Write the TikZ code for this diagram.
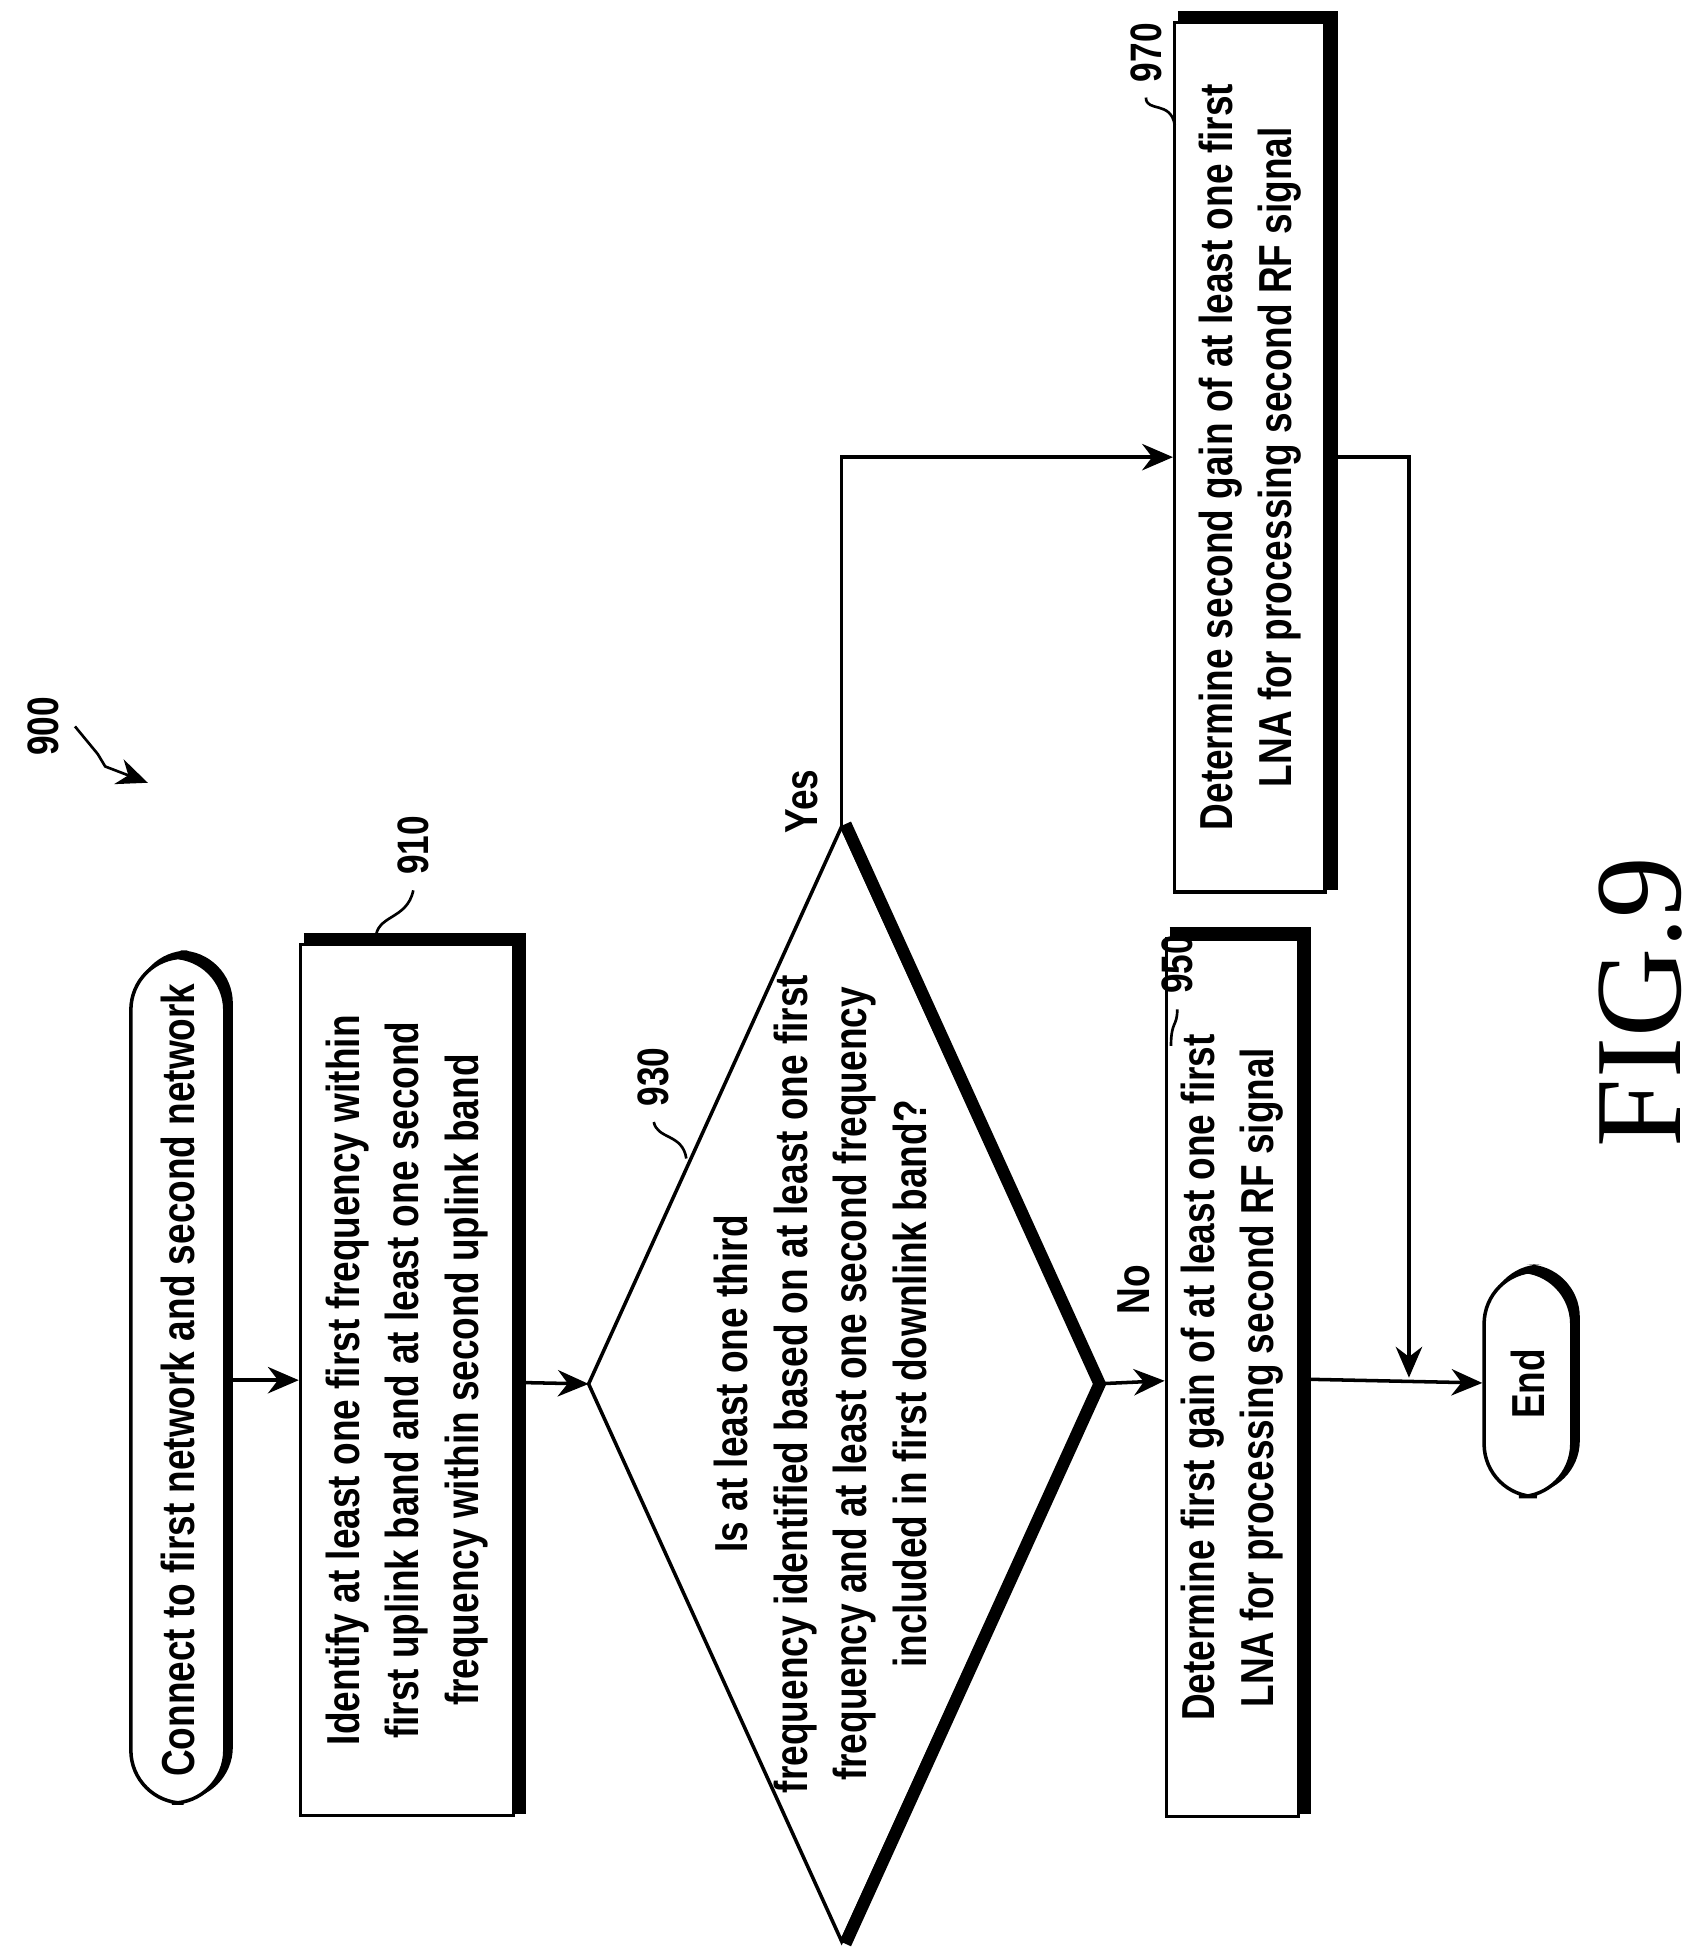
\documentclass[tikz,border=0pt]{standalone}
\usepackage{fontspec}
\setmainfont{Liberation Serif}
\newfontfamily\cond[FakeStretch=0.8]{Liberation Sans}
\usetikzlibrary{positioning, arrows.meta, calc, backgrounds}

\begin{document}
\begin{tikzpicture}[
    x=0.01cm, y=-0.01cm,
    box/.style={rectangle, draw, line width=0.8pt, rotate=90, align=center, fill=white, font=\cond\bfseries\fontsize{10.5}{13.5}\selectfont},
    term/.style={box, rounded corners=12pt},
    txt/.style={rotate=90, align=center, font=\cond\bfseries\fontsize{10.5}{13.5}\selectfont},
    num/.style={rotate=90, font=\cond\bfseries\fontsize{10}{12}\selectfont},
    arrow/.style={-{Stealth[length=7pt,width=6pt]}, line width=0.8pt},
    shadow/.style={line width=2.8pt},
    lead/.style={line width=0.6pt},
]
\useasboundingbox (0,0) rectangle (1360,1557);

% ============ boxes ============
\node[term, minimum width=6.75cm, minimum height=0.75cm] (start) at (142,1102) {Connect to first network and second network};
\node[box, minimum width=6.95cm, minimum height=1.7cm] (b910) at (325,1102) {Identify at least one first frequency within\\first uplink band and at least one second\\frequency within second uplink band};
\node[box, minimum width=7cm, minimum height=0.92cm] (b950) at (984,1100) {Determine first gain of at least one first\\LNA for processing second RF signal};
\node[box, minimum width=6.94cm, minimum height=1.2cm] (b970) at (998,365) {Determine second gain of at least one first\\LNA for processing second RF signal};
\node[term, minimum width=1.8cm, minimum height=0.7cm] (end) at (1220,1105) {End};

% ============ decision ============
\coordinate (d_l) at (470,1105);
\coordinate (d_t) at (672,660);
\coordinate (d_r) at (875,1105);
\coordinate (d_b) at (672,1550);
\draw[line width=0.8pt] (d_l) -- (d_t) -- (d_r) -- (d_b) -- cycle;
\draw[shadow] ([shift={(3,-2)}]d_t) -- ([shift={(3,0)}]d_r) -- ([shift={(3,2)}]d_b);
\node[txt] (q930) at (655,1105) {Is at least one third\\frequency identified based on at least one first\\frequency and at least one second frequency\\included in first downlink band?};

% ============ shadows ============
\draw[shadow] ([shift={(4,-3)}]b910.north east) -- ([shift={(4,-3)}]b910.south east) -- ([shift={(4,-3)}]b910.south west);
\draw[shadow] ([shift={(4,-3)}]b950.north east) -- ([shift={(4,-3)}]b950.south east) -- ([shift={(4,-3)}]b950.south west);
\draw[shadow] ([shift={(4,-3)}]b970.north east) -- ([shift={(4,-3)}]b970.south east) -- ([shift={(4,-3)}]b970.south west);
\begin{pgfonlayer}{background}
    \fill[rounded corners=12pt] ([shift={(5,-4)}]start.north east) rectangle ([shift={(5,-4)}]start.south west);
    \fill[rounded corners=12pt] ([shift={(5,-4)}]end.north east) rectangle ([shift={(5,-4)}]end.south west);
\end{pgfonlayer}

% ============ reference numbers ============
\node[num] (n900) at (35,580) {900};
\node[num] (n910) at (330,675) {910};
\node[num] (n930) at (522,860) {930};
\node[num] (n950) at (940,770) {950};
\node[num] (n970) at (915,42) {970};
\coordinate (a900) at (118,625);
\draw[arrow, lead] (n900.south) -- (78,602) -- (84,612) -- (a900);
\draw[lead] (n910.west) .. controls (325,735) and (300,730) .. (300,750);
\draw[lead] (n930.west) .. controls (525,910) and (545,905) .. (548,925);
\draw[lead] (n950.west) .. controls (940,820) and (935,815) .. (935,835);
\draw[lead] (n970.west) .. controls (915,90) and (935,80) .. (938,100);

% ============ labels ============
\node[txt] (yes) at (640,640) {Yes};
\node[txt] (no) at (905,1030) {No};
\node[rotate=90, font=\fontsize{28}{28}\selectfont] (fig) at (1310,800) {FIG.9};

% ============ arrows ============
\coordinate (j) at (1125,1100);
\draw[arrow] (start) -- (b910);
\draw[arrow] (b910) -- (d_l);
\draw[arrow] (d_r) -- (b950);
\draw[arrow] (d_t) |- (b970.north);
\draw[arrow] (b950) -- (end);
\draw[arrow] (b970.south) -| (j);

\end{tikzpicture}
\end{document}
